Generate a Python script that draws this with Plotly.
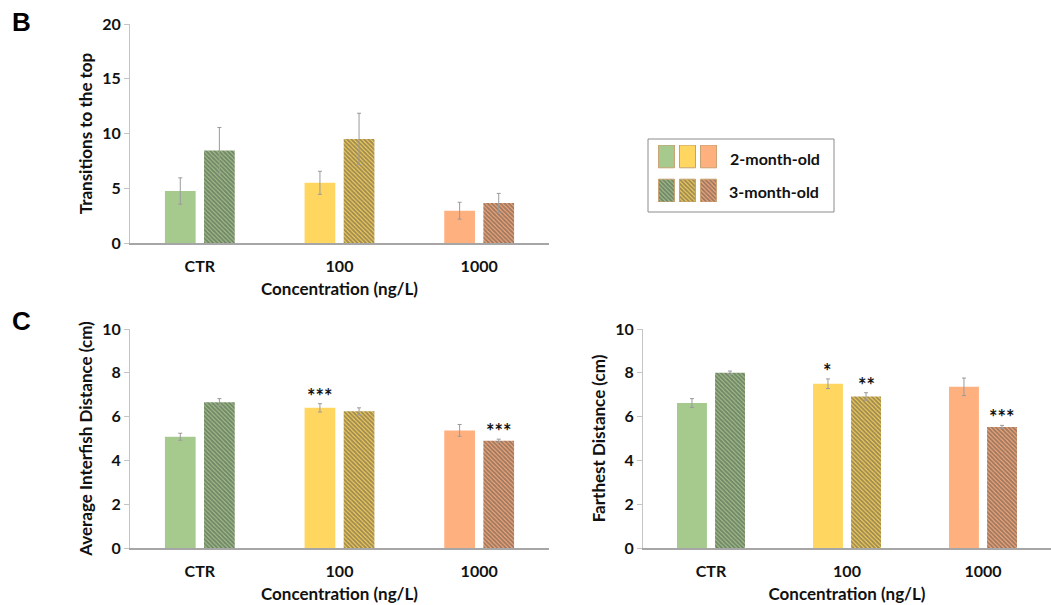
import plotly.graph_objects as go

# ---- data -------------------------------------------------------------
categories = ["CTR", "100", "1000"]
age_labels = ["2-month-old", "3-month-old"]
colors = ["#A6CA8E", "#FFD760", "#FFB07F"]

transitions_2m = [4.75, 5.5, 2.95]
transitions_2m_err = [1.2, 1.05, 0.77]
transitions_3m = [8.45, 9.5, 3.65]
transitions_3m_err = [2.1, 2.35, 0.88]

interfish_2m = [5.08, 6.40, 5.37]
interfish_2m_err = [0.16, 0.19, 0.27]
interfish_3m = [6.66, 6.24, 4.90]
interfish_3m_err = [0.16, 0.16, 0.07]
interfish_sig_2m = ["", "***", ""]
interfish_sig_3m = ["", "", "***"]

farthest_2m = [6.62, 7.50, 7.36]
farthest_2m_err = [0.20, 0.22, 0.40]
farthest_3m = [8.00, 6.92, 5.53]
farthest_3m_err = [0.08, 0.17, 0.07]
farthest_sig_2m = ["", "*", ""]
farthest_sig_3m = ["", "**", "***"]

# ---- styling ------------------------------------------------------------
W, H = 1051, 605
FONT = "Lato"
BAR_W = 0.22
OFF_2M = -0.25
OFF_3M = 0.03
HATCH = dict(shape="\\", fgcolor="#141414", size=3, solidity=0.7)
ERR_STYLE = dict(type="data", color="#9a9a9a", thickness=1, width=2)


def px_x(p):
    return p / W


def px_y(p):
    return 1 - p / H


fig = go.Figure()

positions = list(range(len(categories)))


def add_pair(xa, ya, v2, e2, v3, e3):
    fig.add_trace(go.Bar(
        x=positions, y=v2, width=BAR_W, offset=OFF_2M,
        marker=dict(color=colors, line=dict(width=0)),
        error_y=dict(array=e2, **ERR_STYLE),
        xaxis=xa, yaxis=ya, showlegend=False, hoverinfo="skip"))
    fig.add_trace(go.Bar(
        x=positions, y=v3, width=BAR_W, offset=OFF_3M,
        marker=dict(color=colors, line=dict(width=0),
                    pattern=dict(bgcolor=colors, **HATCH)),
        error_y=dict(array=e3, **ERR_STYLE),
        xaxis=xa, yaxis=ya, showlegend=False, hoverinfo="skip"))


add_pair("x", "y", transitions_2m, transitions_2m_err, transitions_3m, transitions_3m_err)
add_pair("x2", "y2", interfish_2m, interfish_2m_err, interfish_3m, interfish_3m_err)
add_pair("x3", "y3", farthest_2m, farthest_2m_err, farthest_3m, farthest_3m_err)

# significance marks above the error bars
annotations = []


def add_sig(xref, yref, marks, vals, errs, off):
    for i, (m, v, e) in enumerate(zip(marks, vals, errs)):
        if m:
            annotations.append(dict(
                x=i + off + BAR_W / 2, y=v + e, xref=xref, yref=yref,
                text=m, showarrow=False, yanchor="bottom", yshift=-6,
                font=dict(family=FONT, size=20, color="#111", weight="bold")))


add_sig("x2", "y2", interfish_sig_2m, interfish_2m, interfish_2m_err, OFF_2M)
add_sig("x2", "y2", interfish_sig_3m, interfish_3m, interfish_3m_err, OFF_3M)
add_sig("x3", "y3", farthest_sig_2m, farthest_2m, farthest_2m_err, OFF_2M)
add_sig("x3", "y3", farthest_sig_3m, farthest_3m, farthest_3m_err, OFF_3M)

# legend swatches drawn as small bars on a hidden axis pair
fig.add_trace(go.Bar(
    x=positions, y=[0.8] * 3, base=[1.2] * 3, width=0.76,
    marker=dict(color=colors, line=dict(width=1, color="#c8a070")),
    xaxis="x4", yaxis="y4", showlegend=False, hoverinfo="skip"))
fig.add_trace(go.Bar(
    x=positions, y=[0.8] * 3, base=[0] * 3, width=0.76,
    marker=dict(color=colors, line=dict(width=1, color="#c8a070"),
                pattern=dict(bgcolor=colors, **HATCH)),
    xaxis="x4", yaxis="y4", showlegend=False, hoverinfo="skip"))

tick_font = dict(family=FONT, size=16, color="#111", weight="bold")
title_font = dict(family=FONT, size=17, color="#111", weight="bold")


def xaxis(domain):
    return dict(
        domain=domain, range=[-0.5, 2.5], tickvals=positions, ticktext=categories,
        showline=True, linecolor="#a6a6a6", linewidth=2, ticks="",
        showgrid=False, zeroline=False, tickfont=tick_font,
        automargin=False, ticklabelstandoff=8,
        title=dict(text="Concentration (ng/L)", font=title_font, standoff=9))


def yaxis(domain, rng, dtick, anchor, title):
    return dict(
        domain=domain, range=rng, dtick=dtick, anchor=anchor,
        showline=True, linecolor="#c4c4c4", linewidth=1,
        ticks="outside", ticklen=5, tickcolor="#c4c4c4",
        showgrid=False, zeroline=False, tickfont=tick_font,
        automargin=False,
        title=dict(text=title, font=title_font, standoff=5))


xl = [px_x(130), px_x(549)]
xr = [px_x(643), 1.0]
yb = [px_y(243), px_y(24)]
yc = [px_y(548), px_y(329)]

fig.update_layout(
    width=W, height=H,
    margin=dict(l=0, r=0, t=0, b=0, autoexpand=False),
    paper_bgcolor="white", plot_bgcolor="white",
    barmode="overlay",
    showlegend=False,
    xaxis=dict(xaxis(xl), anchor="y"),
    yaxis=yaxis(yb, [0, 20], 5, "x", "Transitions to the top"),
    xaxis2=dict(xaxis(xl), anchor="y2"),
    yaxis2=yaxis(yc, [0, 10], 2, "x2", "Average Interfish Distance (cm)"),
    xaxis3=dict(xaxis(xr), anchor="y3"),
    yaxis3=yaxis(yc, [0, 10], 2, "x3", "Farthest Distance (cm)"),
    xaxis4=dict(domain=[px_x(658), px_x(717)], range=[-0.4, 2.4], visible=False,
                anchor="y4", fixedrange=True, automargin=False),
    yaxis4=dict(domain=[px_y(202), px_y(145)], range=[0, 2], visible=False,
                anchor="x4", fixedrange=True, automargin=False),
)

# legend frame and labels
fig.add_shape(type="rect", xref="paper", yref="paper",
              x0=px_x(648), x1=px_x(834), y0=px_y(212), y1=px_y(139),
              line=dict(color="#8c8c8c", width=1), fillcolor="rgba(0,0,0,0)",
              layer="below")
annotations.append(dict(x=px_x(728), y=px_y(158), xref="paper", yref="paper",
                        text=age_labels[0], showarrow=False,
                        xanchor="left", yanchor="middle",
                        font=dict(family=FONT, size=16, color="#111", weight="bold")))
annotations.append(dict(x=px_x(727), y=px_y(191), xref="paper", yref="paper",
                        text=age_labels[1], showarrow=False,
                        xanchor="left", yanchor="middle",
                        font=dict(family=FONT, size=16, color="#111", weight="bold")))

# panel letters
for letter, yy in (("B", 22), ("C", 321)):
    annotations.append(dict(x=px_x(10), y=px_y(yy), xref="paper", yref="paper",
                            text=letter, showarrow=False,
                            xanchor="left", yanchor="middle",
                            font=dict(family="Liberation Sans", size=26,
                                      color="#000", weight="bold")))

fig.update_layout(annotations=annotations)

fig.write_html("out.html")
